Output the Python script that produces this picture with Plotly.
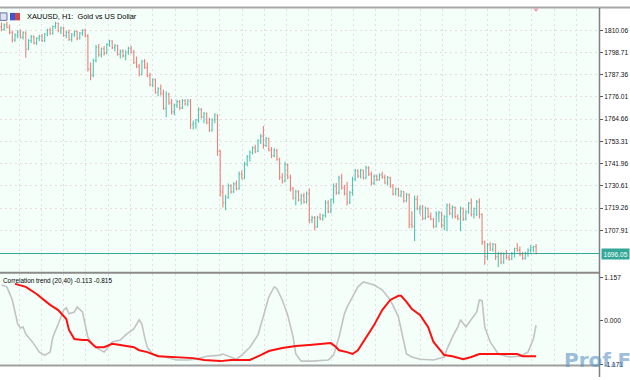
import plotly.graph_objects as go

W, H = 630, 380

bar_open = [1812.0,1810.5,1812.8,1811.6,1809.0,1805.0,1807.6,1809.2,1806.4,1808.8,
1800.5,1804.8,1806.8,1803.6,1805.9,1806.9,1804.8,1808.0,1810.2,1808.4,
1812.0,1813.6,1809.8,1811.2,1807.4,1809.0,1805.4,1807.8,1809.4,1806.0,
1808.6,1810.0,1807.2,1790.2,1787.0,1794.6,1801.4,1797.6,1800.6,1798.4,
1802.8,1804.6,1801.2,1802.2,1797.8,1799.4,1797.0,1798.8,1800.8,1798.8,
1793.6,1791.6,1787.6,1794.2,1791.0,1786.8,1782.2,1784.8,1778.4,1780.2,
1777.6,1770.2,1777.4,1773.0,1768.4,1771.8,1773.6,1770.4,1774.2,1772.4,
1773.8,1761.8,1762.6,1764.2,1769.6,1765.8,1767.4,1762.8,1759.0,1764.2,
1766.8,1748.2,1727.4,1722.0,1724.8,1730.6,1727.6,1731.6,1729.2,1736.6,
1734.6,1741.6,1745.2,1747.8,1750.0,1748.4,1753.6,1756.0,1751.2,1754.8,
1749.0,1746.0,1748.8,1744.2,1735.0,1733.0,1741.4,1735.0,1729.0,1724.4,
1727.6,1723.4,1725.6,1722.4,1726.8,1713.2,1714.4,1709.8,1714.6,1713.8,
1715.4,1722.0,1717.4,1723.6,1730.4,1727.0,1734.6,1729.6,1726.6,1722.2,
1727.2,1734.2,1738.4,1735.6,1738.6,1734.6,1739.8,1736.6,1732.0,1735.4,
1733.8,1736.2,1735.0,1732.2,1734.8,1730.4,1726.6,1729.0,1725.8,1727.6,
1723.0,1726.0,1711.0,1710.0,1723.6,1719.0,1719.8,1714.0,1719.2,1715.0,
1713.6,1710.0,1716.4,1717.0,1710.4,1714.8,1720.8,1716.4,1719.6,1715.0,
1713.8,1719.2,1713.6,1717.4,1721.8,1716.0,1719.0,1722.4,1716.0,1702.0,
1694.4,1700.6,1698.2,1700.8,1694.4,1695.8,1691.6,1696.0,1694.0,1693.2,
1696.0,1698.6,1697.8,1695.4,1693.6,1696.2,1697.8,1699.0,1699.6]

bar_high = [1814.0,1813.5,1814.4,1813.0,1809.8,1808.5,1810.0,1810.5,1809.6,1809.5,
1805.5,1807.6,1807.4,1806.5,1807.8,1808.2,1808.6,1810.8,1811.5,1812.6,
1814.4,1814.0,1812.0,1811.8,1809.8,1810.4,1808.6,1810.0,1809.9,1809.2,
1810.6,1810.8,1808.0,1793.6,1795.5,1802.5,1803.0,1801.2,1802.0,1803.4,
1805.2,1805.0,1803.0,1802.6,1800.2,1800.4,1799.8,1801.6,1802.0,1800.0,
1796.6,1793.0,1795.0,1795.4,1793.6,1788.4,1785.6,1785.4,1781.0,1782.4,
1779.8,1778.9,1778.2,1775.0,1772.6,1774.6,1774.4,1774.9,1774.8,1775.0,
1774.9,1764.0,1764.8,1770.8,1770.4,1768.3,1768.0,1765.4,1765.0,1767.7,
1767.2,1749.0,1731.0,1726.0,1731.8,1731.4,1732.4,1733.3,1737.9,1738.4,
1742.9,1746.4,1748.6,1750.8,1751.6,1754.4,1757.1,1761.2,1755.6,1755.2,
1750.5,1749.8,1749.4,1745.0,1737.0,1742.9,1742.0,1736.4,1730.0,1728.6,
1728.4,1726.6,1727.0,1727.7,1729.3,1715.4,1715.2,1715.4,1716.6,1716.2,
1723.2,1723.2,1724.2,1731.8,1732.0,1735.8,1736.8,1731.2,1732.7,1728.0,
1735.3,1739.4,1739.0,1739.2,1739.0,1740.9,1740.6,1737.8,1736.4,1736.4,
1737.0,1737.8,1736.4,1735.6,1735.2,1731.6,1729.8,1729.6,1728.4,1728.0,
1727.0,1726.7,1717.6,1725.7,1725.7,1720.6,1720.8,1720.1,1719.6,1717.0,
1714.2,1717.6,1717.8,1717.4,1715.6,1721.6,1721.6,1720.6,1720.1,1716.0,
1720.1,1719.6,1718.1,1722.4,1724.2,1719.6,1723.4,1724.2,1716.6,1702.6,
1701.4,1701.8,1701.4,1701.2,1697.0,1696.8,1696.6,1697.8,1695.4,1696.8,
1699.0,1701.4,1699.6,1696.8,1697.0,1698.6,1700.4,1700.0,1700.9]

bar_low = [1809.5,1809.8,1811.0,1808.0,1803.8,1804.2,1806.0,1805.8,1805.4,1796.0,
1799.8,1803.5,1802.8,1802.5,1804.4,1804.0,1804.1,1807.0,1807.6,1807.9,
1810.8,1809.0,1808.2,1806.6,1806.0,1804.6,1804.2,1806.8,1805.0,1805.3,
1807.2,1806.4,1789.0,1784.5,1786.0,1793.6,1796.5,1796.2,1797.2,1797.8,
1801.6,1800.5,1799.4,1797.0,1795.6,1796.2,1794.8,1797.6,1798.0,1792.8,
1790.8,1786.5,1787.0,1790.4,1786.0,1781.4,1781.0,1777.6,1776.4,1776.8,
1769.4,1765.7,1772.0,1767.0,1766.6,1770.4,1769.4,1769.8,1771.6,1771.2,
1759.6,1759.4,1759.8,1762.8,1765.0,1762.6,1762.0,1758.1,1758.4,1762.6,
1746.0,1725.2,1719.6,1718.1,1724.0,1726.6,1727.0,1728.2,1728.6,1733.8,
1734.0,1740.6,1743.0,1746.6,1747.2,1747.8,1752.0,1749.6,1750.4,1748.2,
1744.8,1745.2,1743.4,1733.6,1731.8,1732.4,1734.0,1727.7,1723.6,1720.6,
1722.6,1721.0,1721.6,1721.6,1711.5,1711.6,1708.0,1709.2,1713.0,1712.8,
1714.4,1716.6,1716.6,1721.6,1726.0,1726.2,1728.6,1725.7,1720.6,1721.4,
1725.7,1733.0,1734.6,1734.4,1733.8,1734.0,1735.6,1730.8,1731.0,1733.0,
1733.2,1734.2,1731.4,1730.8,1729.6,1725.7,1725.7,1725.0,1724.8,1722.0,
1722.2,1709.0,1709.0,1702.4,1718.2,1716.0,1713.0,1713.4,1714.2,1713.0,
1709.0,1709.4,1712.0,1709.0,1708.0,1707.4,1715.6,1714.0,1714.0,1713.0,
1707.4,1712.6,1713.0,1716.4,1715.0,1714.0,1715.2,1714.0,1700.4,1690.3,
1692.8,1697.4,1697.0,1692.8,1689.2,1690.6,1690.8,1693.0,1692.4,1692.8,
1694.0,1697.0,1694.6,1692.8,1693.0,1694.4,1696.4,1696.8,1695.6]

bar_close = [1810.5,1812.8,1811.6,1809.0,1805.0,1807.6,1809.2,1806.4,1808.8,1800.5,
1804.8,1806.8,1803.6,1805.9,1806.9,1804.8,1808.0,1810.2,1808.4,1812.0,
1813.6,1809.8,1811.2,1807.4,1809.0,1805.4,1807.8,1809.4,1806.0,1808.6,
1810.0,1807.2,1790.2,1787.0,1794.6,1801.4,1797.6,1800.6,1798.4,1802.8,
1804.6,1801.2,1802.2,1797.8,1799.4,1797.0,1798.8,1800.8,1798.8,1793.6,
1791.6,1787.6,1794.2,1791.0,1786.8,1782.2,1784.8,1778.4,1780.2,1777.6,
1770.2,1777.4,1773.0,1768.4,1771.8,1773.6,1770.4,1774.2,1772.4,1773.8,
1761.8,1762.6,1764.2,1769.6,1765.8,1767.4,1762.8,1759.0,1764.2,1766.8,
1748.2,1727.4,1722.0,1724.8,1730.6,1727.6,1731.6,1729.2,1736.6,1734.6,
1741.6,1745.2,1747.8,1750.0,1748.4,1753.6,1756.0,1751.2,1754.8,1749.0,
1746.0,1748.8,1744.2,1735.0,1733.0,1741.4,1735.0,1729.0,1724.4,1727.6,
1723.4,1725.6,1722.4,1726.8,1713.2,1714.4,1709.8,1714.6,1713.8,1715.4,
1722.0,1717.4,1723.6,1730.4,1727.0,1734.6,1729.6,1726.6,1722.2,1727.2,
1734.2,1738.4,1735.6,1738.6,1734.6,1739.8,1736.6,1732.0,1735.4,1733.8,
1736.2,1735.0,1732.2,1734.8,1730.4,1726.6,1729.0,1725.8,1727.6,1723.0,
1726.0,1711.0,1710.0,1723.6,1719.0,1719.8,1714.0,1719.2,1715.0,1713.6,
1710.0,1716.4,1717.0,1710.4,1714.8,1720.8,1716.4,1719.6,1715.0,1713.8,
1719.2,1713.6,1717.4,1721.8,1716.0,1719.0,1722.4,1716.0,1702.0,1694.4,
1700.6,1698.2,1700.8,1694.4,1695.8,1691.6,1696.0,1694.0,1693.2,1696.0,
1698.6,1697.8,1695.4,1693.6,1696.2,1697.8,1699.0,1699.6,1696.05]

price_ticks = [1810.06, 1798.71, 1787.36, 1776.01, 1764.66, 1753.31, 1741.96, 1730.61, 1719.26, 1707.91]
last_price = 1696.05

gray_idx = [0,2,4,6,7,8,9,12,14,16,18,19,21,23,24,25,27,28,30,31,
32,34,36,38,39,41,44,46,49,51,52,53,54,56,60,65,69,72,76,81,
82,85,87,89,92,95,97,99,101,102,104,106,108,109,111,115,121,123,125,127,
128,130,132,134,138,141,144,147,148,150,152,155,160,164,165,167,169,170,172,174,
176,177,178,179,181,184,188,192,195,197,198]
gray_val = [0.96,0.91,0.56,-0.08,-0.19,-0.16,-0.35,-0.61,-0.83,-0.91,-0.83,-0.43,-0.08,0.29,0.35,0.19,0.24,0.37,0.24,-0.08,
-0.43,-0.64,-0.75,-0.83,-0.75,-0.56,-0.51,-0.37,-0.21,0.03,-0.08,-0.43,-0.70,-0.88,-0.96,-1.04,-1.04,-1.02,-0.94,-0.91,
-0.88,-0.96,-1.02,-0.91,-0.70,-0.37,0.11,0.64,0.91,0.86,0.56,0.16,-0.43,-0.88,-1.07,-1.07,-1.04,-0.91,-0.43,0.19,
0.37,0.64,0.91,1.04,0.96,0.83,0.56,0.11,-0.24,-0.88,-0.96,-1.02,-1.04,-0.96,-0.75,-0.43,-0.16,0.03,-0.16,0.05,
0.24,0.56,0.54,-0.16,-0.56,-0.88,-0.96,-0.94,-0.83,-0.48,-0.113]

red_idx = [5,9,13,18,21,24,25,27,30,32,34,35,38,41,44,49,51,54,58,64,
71,75,81,85,92,96,99,104,109,114,119,122,124,125,128,130,132,134,138,141,
144,147,148,150,152,155,158,160,162,164,167,171,174,177,180,191,193,198]
red_val = [0.99,0.91,0.72,0.43,0.29,0.05,-0.24,-0.48,-0.51,-0.51,-0.64,-0.70,-0.70,-0.61,-0.64,-0.70,-0.78,-0.83,-0.94,-0.96,
-0.99,-1.04,-1.07,-1.04,-1.04,-0.91,-0.80,-0.72,-0.67,-0.64,-0.61,-0.59,-0.70,-0.78,-0.83,-0.88,-0.78,-0.56,-0.11,0.29,
0.56,0.67,0.67,0.51,0.32,0.16,-0.16,-0.56,-0.75,-0.91,-0.94,-1.02,-0.96,-0.88,-0.88,-0.88,-0.94,-0.94]

ind_ticks = [1.157, 0.0, -1.171]
ind_ticktext = ["1.157", "0.000", "-1.171"]

title_text = "XAUUSD, H1:\u00a0 Gold vs US Dollar"
ind_label = "Correlation trend (20,40) -0.113 -0.815"


def px(x):
    return x / W


def py(y):
    return 1 - y / H


INC = "#4fc4b3"
DEC = "#f07f79"
BG = "#f4fffa"
GRID = "#e6dde2"
TEAL = "#34a898"
FONT = "Liberation Sans"

idx = list(range(len(bar_close)))

fig = go.Figure()
fig.add_trace(go.Ohlc(
    x=idx, open=bar_open, high=bar_high, low=bar_low, close=bar_close,
    increasing=dict(line=dict(color=INC, width=1.1)),
    decreasing=dict(line=dict(color=DEC, width=1.1)),
    tickwidth=0.35, xaxis="x", yaxis="y", showlegend=False, hoverinfo="skip"))

fig.add_trace(go.Scatter(x=gray_idx, y=gray_val, mode="lines", xaxis="x2", yaxis="y2",
                         line=dict(color="#c3c3c3", width=1.6), showlegend=False, hoverinfo="skip"))
fig.add_trace(go.Scatter(x=red_idx, y=red_val, mode="lines", xaxis="x2", yaxis="y2",
                         line=dict(color="#ff1010", width=2), showlegend=False, hoverinfo="skip"))

x_range = [-0.556, 221.3]
xcommon = dict(range=x_range, showgrid=True, gridcolor=GRID, griddash="2px,3px", gridwidth=1,
               tick0=6.48, dtick=8.26, showticklabels=False, ticks="", zeroline=False,
               showline=False, domain=[0, px(599)])

shapes = [
    dict(type="line", xref="paper", yref="y", x0=0, x1=px(599), y0=last_price, y1=last_price,
         line=dict(color=TEAL, width=1)),
    dict(type="line", xref="paper", yref="paper", x0=0, x1=1, y0=py(7.5), y1=py(7.5),
         line=dict(color="#a6a6a6", width=2)),
    dict(type="line", xref="paper", yref="paper", x0=0, x1=px(599), y0=py(275), y1=py(275),
         line=dict(color="#8a8a8a", width=2)),
    dict(type="line", xref="paper", yref="paper", x0=0, x1=px(599), y0=py(368.5), y1=py(368.5),
         line=dict(color="#a0a0a0", width=2)),
    dict(type="line", xref="paper", yref="paper", x0=px(599.5), x1=px(599.5), y0=py(8), y1=py(380),
         line=dict(color="#808080", width=1.5)),
    dict(type="path", xref="paper", yref="paper",
         path=f"M {px(533)},{py(8.5)} L {px(539)},{py(8.5)} L {px(536)},{py(12)} Z",
         fillcolor="#e8a6bd", line=dict(width=0)),
    dict(type="rect", xref="paper", yref="paper", x0=px(0), x1=px(7), y0=py(20.5), y1=py(13),
         fillcolor="#dfe2f2", line=dict(color="#6a70a0", width=1)),
    dict(type="rect", xref="paper", yref="paper", x0=px(10), x1=px(15), y0=py(20.5), y1=py(13),
         fillcolor="#3b57d6", line=dict(width=0)),
    dict(type="rect", xref="paper", yref="paper", x0=px(15), x1=px(20), y0=py(20.5), y1=py(13),
         fillcolor="#d04848", line=dict(width=0)),
]

annotations = [
    dict(text=title_text, xref="paper", yref="paper", x=px(25), y=py(16.5), xanchor="left",
         yanchor="middle", showarrow=False, font=dict(family=FONT, size=7.4, color="#000000")),
    dict(text=ind_label, xref="paper", yref="paper", x=px(0.5), y=py(283), xanchor="left",
         yanchor="middle", showarrow=False, font=dict(family=FONT, size=6.4, color="#000000")),
    dict(text=f"{last_price:.2f}", xref="paper", yref="y", x=px(600.5), y=last_price, xanchor="left",
         yanchor="middle", showarrow=False, bgcolor=TEAL, borderpad=1.5,
         font=dict(family=FONT, size=6.6, color="#ffffff")),
    dict(text="<b>Prof.FX</b>", xref="paper", yref="paper", x=px(562), y=py(363), xanchor="left",
         yanchor="middle", showarrow=False,
         font=dict(family="DejaVu Sans", size=20, color="rgba(95,145,195,0.6)")),
]

fig.update_layout(
    width=W, height=H, margin=dict(l=0, r=0, t=0, b=0),
    paper_bgcolor="#ffffff", plot_bgcolor=BG, showlegend=False,
    xaxis=dict(**xcommon, anchor="y", rangeslider=dict(visible=False)),
    xaxis2=dict(**xcommon, anchor="y2", matches="x"),
    yaxis=dict(domain=[py(274), py(9)], range=[1686.7, 1820.95], side="right", anchor="x",
               tickvals=price_ticks, ticktext=[f"{v:.2f}" for v in price_ticks],
               ticks="outside", ticklen=3, tickcolor="#555555", tickwidth=1,
               showgrid=True, gridcolor=GRID, griddash="2px,3px", zeroline=False,
               showline=True, linecolor="#808080", linewidth=1,
               tickfont=dict(family=FONT, size=6.6, color="#111111")),
    yaxis2=dict(domain=[py(368), py(276)], range=[-1.176, 1.257], side="right", anchor="x2",
                tickvals=ind_ticks, ticktext=ind_ticktext,
                ticks="outside", ticklen=3, tickcolor="#555555", tickwidth=1,
                showgrid=False, zeroline=False,
                showline=True, linecolor="#808080", linewidth=1,
                tickfont=dict(family=FONT, size=6.6, color="#111111")),
    shapes=shapes, annotations=annotations,
)

fig.write_html("out.html", config={"displayModeBar": False},
               post_script="document.body.style.margin='0px';document.body.style.overflow='hidden';")
